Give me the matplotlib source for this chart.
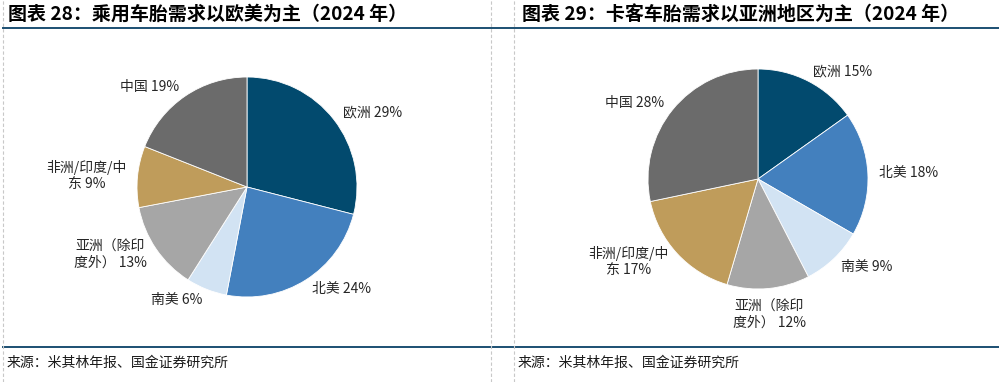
import matplotlib.pyplot as plt
from matplotlib.lines import Line2D

plt.rcParams['font.family'] = ['Noto Sans CJK SC', 'DejaVu Sans']

# data
regions = ['欧洲', '北美', '南美', '亚洲（除印\n度外）', '非洲/印度/中\n东', '中国']
car_share = [29, 24, 6, 13, 9, 19]
truck_share = [15, 18, 9, 12, 17, 28]
colors = ['#024A6E', '#4380BE', '#D2E3F3', '#A6A6A6', '#BF9C5B', '#6B6B6B']

titles = ['图表 28：乘用车胎需求以欧美为主（2024 年）',
          '图表 29：卡客车胎需求以亚洲地区为主（2024 年）']
source = '来源：米其林年报、国金证券研究所'

W, H = 999, 382
fig = plt.figure(figsize=(W / 100, H / 100), dpi=100)

R = 110  # pie radius in pixels
centers = [(247, 187), (758, 179)]


def make_pie(center, values):
    cx, cy = center
    side = 2.5 * R
    ax = fig.add_axes([(cx - side / 2) / W, (H - cy - side / 2) / H, side / W, side / H])
    labels = [f'{r} {v}%' for r, v in zip(regions, values)]
    wedges, texts = ax.pie(values, labels=labels, colors=colors, startangle=90,
                           counterclock=False, labeldistance=1.1,
                           wedgeprops=dict(edgecolor='white', linewidth=0.6),
                           textprops=dict(fontsize=10, color='#262626',
                                          multialignment='center'))
    ax.set_xlim(-1.25, 1.25)
    ax.set_ylim(-1.25, 1.25)
    ax.set_aspect('equal')
    return ax, texts


ax1, t1 = make_pie(centers[0], car_share)
ax2, t2 = make_pie(centers[1], truck_share)
# bottom label of the right pie sits centred under the slice
t2[3].set_ha('center')
t2[3].set_va('top')

# titles and sources
fig.text(8 / W, 1 - 14 / H, titles[0], fontsize=13.7, fontweight='bold', va='center', ha='left')
fig.text(522 / W, 1 - 14 / H, titles[1], fontsize=13.7, fontweight='bold', va='center', ha='left')
fig.text(7 / W, 1 - 363 / H, source, fontsize=10, va='center', ha='left', color='#1a1a1a')
fig.text(518 / W, 1 - 363 / H, source, fontsize=10, va='center', ha='left', color='#1a1a1a')

# frame lines
for y in (28, 347):
    fig.add_artist(Line2D([3 / W, 1], [1 - y / H, 1 - y / H], color='#1B4F72', lw=1.4))
for x in (3, 491, 514):
    fig.add_artist(Line2D([x / W, x / W], [0, 1], color='#C8C8C8', lw=0.8, ls=(0, (3, 2))))

fig.savefig('out.png', dpi=100)
